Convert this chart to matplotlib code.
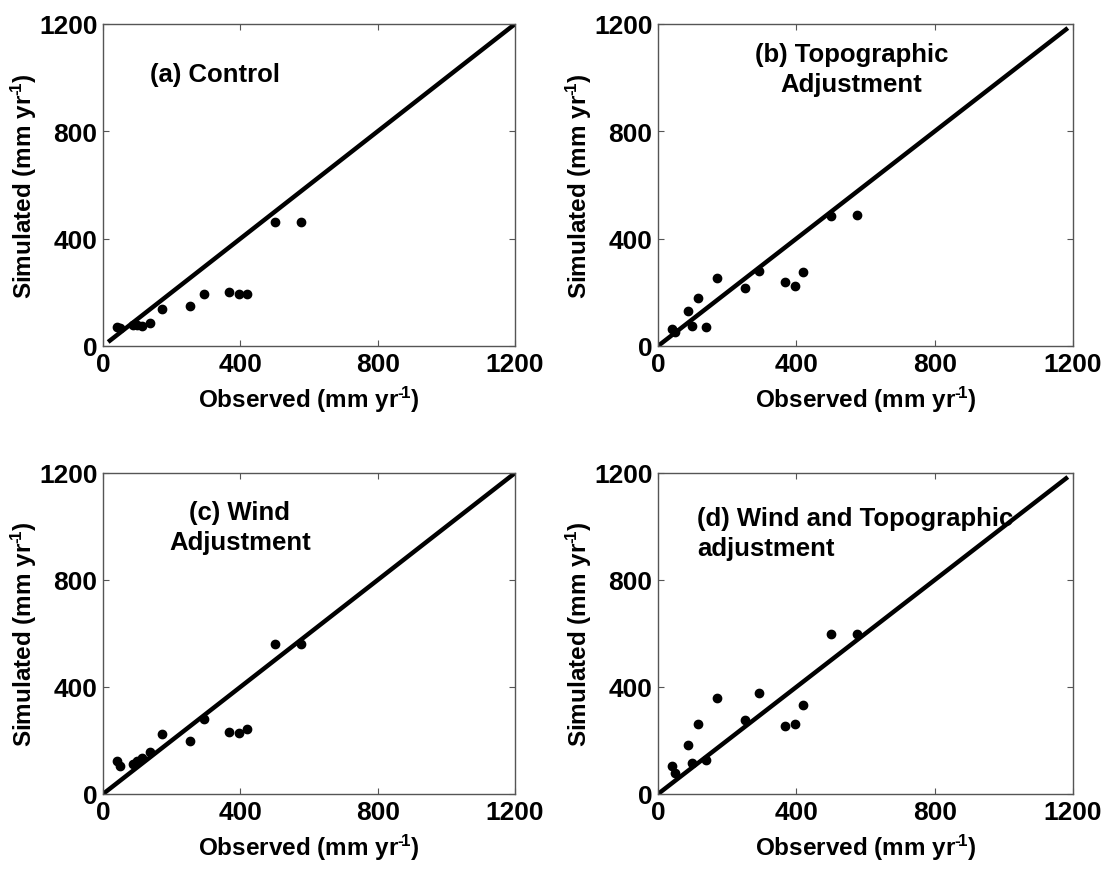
import numpy as np
import matplotlib
matplotlib.use("Agg")
import matplotlib.pyplot as plt

plt.rcParams['font.family'] = ['Liberation Sans', 'DejaVu Sans']
plt.rcParams['font.weight'] = 'bold'
plt.rcParams['mathtext.fontset'] = 'custom'
plt.rcParams['mathtext.rm'] = 'Liberation Sans:bold'
plt.rcParams['mathtext.it'] = 'Liberation Sans:bold'
plt.rcParams['mathtext.bf'] = 'Liberation Sans:bold'
plt.rcParams['mathtext.default'] = 'rm'

# Observed values (same stations in each panel)
observed = [40, 50, 86, 98, 115, 138, 172, 253, 293, 368, 396, 419, 500, 576]

# Simulated values per experiment
sim_control = [72, 67, 78, 80, 73, 87, 137, 148, 192, 202, 192, 192, 462, 462]
sim_topo = [62, 52, 131, 73, 178, 72, 252, 216, 280, 237, 222, 275, 485, 487]
sim_wind = [124, 106, 113, 122, 134, 156, 223, 198, 280, 233, 229, 242, 562, 561]
sim_wind_topo = [104, 79, 184, 115, 262, 127, 360, 278, 376, 256, 263, 331, 598, 599]

# 1:1 reference line end points per panel
line_a = [15, 1200]
line_b = [0, 1185]
line_c = [0, 1200]
line_d = [0, 1185]

titles = ["(a) Control", "(b) Topographic\nAdjustment", "(c) Wind\nAdjustment",
          "(d) Wind and Topographic\nadjustment"]
ticks = [0, 400, 800, 1200]

W, H = 1105, 870
fig = plt.figure(figsize=(W / 100, H / 100), dpi=100)

# axes boxes in pixels: left, right, top, bottom
boxes = [(103, 515, 25, 347), (658, 1073, 25, 347),
         (103, 515, 474, 795), (658, 1073, 474, 795)]
sims = [sim_control, sim_topo, sim_wind, sim_wind_topo]
lines = [line_a, line_b, line_c, line_d]
# title placement: x, y (data), ha
title_pos = [(137, 1015, 'left'), (560, 1031, 'center'),
             (399, 998, 'center'), (113, 977, 'left')]

xlab = 'Observed (mm yr$^{\u2010\\!1}$)'
ylab = 'Simulated (mm yr$^{\u2010\\!1}$)'

for i in range(4):
    l, r, t, b = boxes[i]
    ax = fig.add_axes([l / W, (H - b) / H, (r - l) / W, (b - t) / H])
    ax.plot(lines[i], lines[i], color='black', lw=3.2, solid_capstyle='butt')
    ax.plot(observed, sims[i], 'o', color='black', ms=6, zorder=3)
    ax.set_xlim(0, 1200)
    ax.set_ylim(0, 1200)
    ax.set_xticks(ticks)
    ax.set_yticks(ticks)
    ax.tick_params(direction='in', top=True, right=True, length=4, width=0.8,
                   color='#555555', labelsize=19, pad=4)
    for lab in ax.get_xticklabels() + ax.get_yticklabels():
        lab.set_fontweight('bold')
    for sp in ax.spines.values():
        sp.set_color('#555555')
        sp.set_linewidth(1.0)
    ax.set_xlabel(xlab, fontsize=17.5, fontweight='bold', labelpad=6)
    ax.set_ylabel(ylab, fontsize=17.5, fontweight='bold', labelpad=0)
    tx, ty, ha = title_pos[i]
    ax.text(tx, ty, titles[i], fontsize=18.5, fontweight='bold', ha=ha, va='center',
            linespacing=1.3)

fig.savefig("out.png", dpi=100)
